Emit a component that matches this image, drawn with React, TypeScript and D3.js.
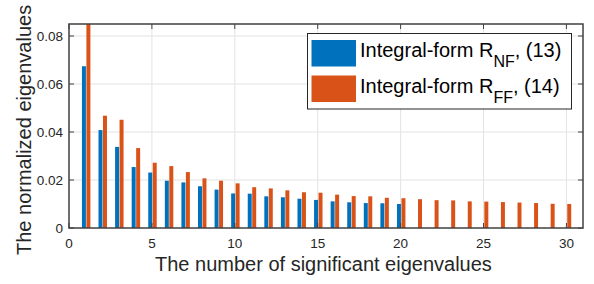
import React from "react";
import * as d3 from "d3";

const nfIndex = d3.range(1, 21);
const nfValues = [0.0674, 0.0408, 0.0338, 0.0254, 0.0231, 0.0197, 0.019, 0.0174, 0.016, 0.0144, 0.0143, 0.0132, 0.0128, 0.0122, 0.0117, 0.0111, 0.0107, 0.0104, 0.0103, 0.01];
const ffIndex = d3.range(1, 31);
const ffValues = [0.095, 0.0468, 0.0451, 0.0333, 0.0272, 0.0258, 0.0233, 0.0207, 0.0197, 0.0186, 0.017, 0.0165, 0.0157, 0.0149, 0.0147, 0.0139, 0.0133, 0.0132, 0.0126, 0.0124, 0.012, 0.0116, 0.0115, 0.0111, 0.011, 0.0108, 0.0106, 0.0104, 0.0101, 0.01];
const xTicks = [0, 5, 10, 15, 20, 25, 30];
const yTicks = [0, 0.02, 0.04, 0.06, 0.08];
const yTickLabels = ["0", "0.02", "0.04", "0.06", "0.08"];

const BLUE = "#0072BD";
const ORANGE = "#D95319";
const FONT = "'Liberation Sans', Arial, Helvetica, sans-serif";

export default function App() {
  const W = 594, H = 284;
  const L = 69, R = 583, T = 24, B = 228;
  const x = d3.scaleLinear().domain([0, 31]).range([L, R]);
  const y = d3.scaleLinear().domain([0, 0.085]).range([B, T]);
  const bw = 0.24;
  const axisColor = "#404040";
  const tickLen = 5;
  return (
    <svg width={W} height={H} style={{ position: "absolute", left: 0, top: 0, background: "#fff" }} fontFamily={FONT}>
      <defs>
        <clipPath id="plotclip">
          <rect x={L} y={T} width={R - L} height={B - T} />
        </clipPath>
      </defs>
      <rect x={L} y={T} width={R - L} height={B - T} fill="#fff" />
      {/* grid */}
      {xTicks.filter((t) => t > 0).map((t) => (
        <line key={"gx" + t} x1={x(t)} x2={x(t)} y1={T} y2={B} stroke="#e3e3e3" strokeWidth={1} />
      ))}
      {yTicks.filter((t) => t > 0).map((t) => (
        <line key={"gy" + t} x1={L} x2={R} y1={y(t)} y2={y(t)} stroke="#e3e3e3" strokeWidth={1} />
      ))}
      {/* bars */}
      <g clipPath="url(#plotclip)">
        {nfValues.map((v, i) => (
          <rect key={"nf" + i} x={x(nfIndex[i] - 0.22)} width={x(bw) - x(0)} y={y(v)} height={y(0) - y(v)} fill={BLUE} />
        ))}
        {ffValues.map((v, i) => (
          <rect key={"ff" + i} x={x(ffIndex[i] + 0.05)} width={x(bw) - x(0)} y={y(v)} height={y(0) - y(v)} fill={ORANGE} />
        ))}
      </g>
      {/* ticks */}
      {xTicks.map((t) => (
        <g key={"tx" + t}>
          <line x1={x(t)} x2={x(t)} y1={B} y2={B - tickLen} stroke={axisColor} strokeWidth={1} />
          <line x1={x(t)} x2={x(t)} y1={T} y2={T + tickLen} stroke={axisColor} strokeWidth={1} />
          <text x={x(t)} y={247.5} textAnchor="middle" fontSize={13.5} fill="#262626">{t}</text>
        </g>
      ))}
      {yTicks.map((t, i) => (
        <g key={"ty" + t}>
          <line x1={L} x2={L + tickLen} y1={y(t)} y2={y(t)} stroke={axisColor} strokeWidth={1} />
          <line x1={R} x2={R - tickLen} y1={y(t)} y2={y(t)} stroke={axisColor} strokeWidth={1} />
          <text x={L - 6} y={y(t) + 5} textAnchor="end" fontSize={13.5} fill="#262626">{yTickLabels[i]}</text>
        </g>
      ))}
      {/* box */}
      <rect x={L} y={T} width={R - L} height={B - T} fill="none" stroke={axisColor} strokeWidth={1.5} />
      {/* axis labels */}
      <text x={155} y={271} textAnchor="start" fontSize={20} fill="#262626">The number of significant eigenvalues</text>
      <text transform={`translate(31, 255) rotate(-90)`} textAnchor="start" fontSize={20} fill="#262626">The normalized eigenvalues</text>
      {/* legend */}
      <rect x={307.5} y={33.5} width={264} height={75.5} fill="#fff" stroke="#262626" strokeWidth={1} />
      <rect x={311.5} y={40} width={44.5} height={26.5} fill={BLUE} />
      <rect x={311.5} y={75.5} width={44.5} height={26.5} fill={ORANGE} />
      <text x={360} y={57} fontSize={20} fill="#000">
        Integral-form R<tspan fontSize={16} dy={10}>NF</tspan><tspan dy={-10}>, (13)</tspan>
      </text>
      <text x={360} y={92.5} fontSize={20} fill="#000">
        Integral-form R<tspan fontSize={16} dy={10}>FF</tspan><tspan dy={-10}>, (14)</tspan>
      </text>
    </svg>
  );
}
